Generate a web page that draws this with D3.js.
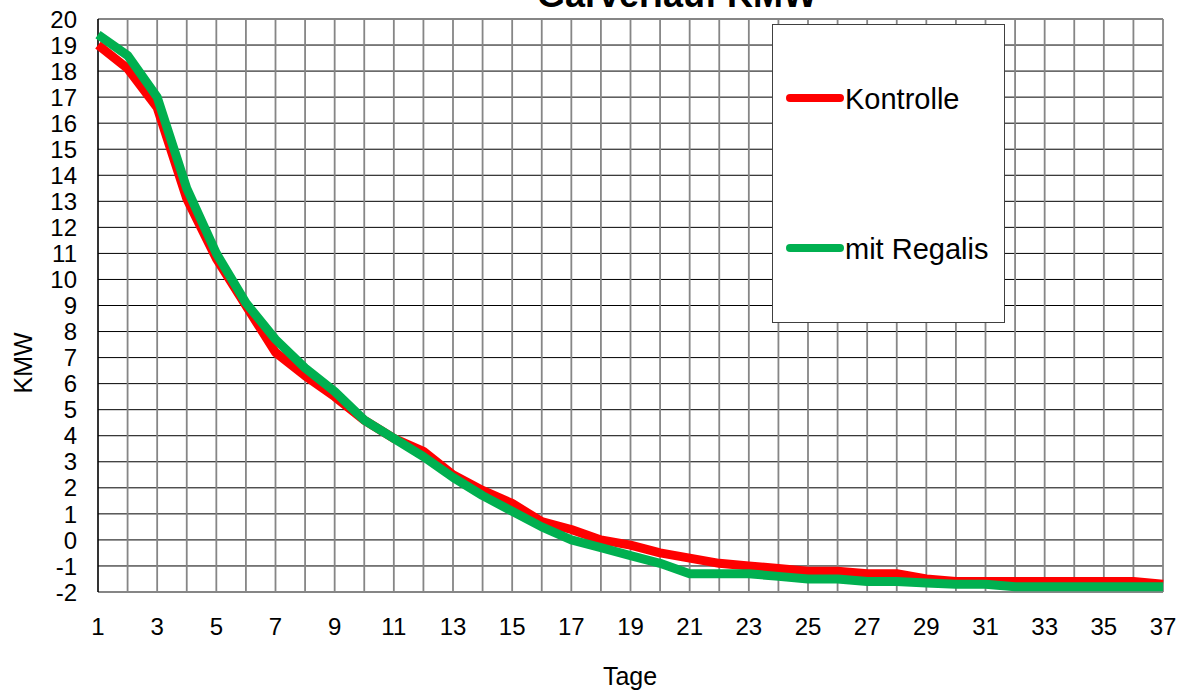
<!DOCTYPE html>
<html>
<head>
<meta charset="utf-8">
<script src="https://cdn.jsdelivr.net/npm/d3@7/dist/d3.min.js"></script>
<style>
  html, body { margin: 0; padding: 0; background: #fff; }
  svg { display: block; font-family: "Liberation Sans", Arial, sans-serif; }
</style>
</head>
<body>
<svg id="chart" width="1186" height="695"></svg>
<script>
const days = d3.range(1, 38);
const xTickLabels = [1,3,5,7,9,11,13,15,17,19,21,23,25,27,29,31,33,35,37];
const yTickLabels = d3.range(-2, 21);
const seriesNames = ["Kontrolle", "mit Regalis"];
const seriesColors = ["#ff0000", "#00b050"];
const kontrolle = [19.0, 18.1, 16.6, 13.1, 10.8, 9.0, 7.2, 6.3, 5.5, 4.6, 3.9, 3.4, 2.5, 1.9, 1.4, 0.7, 0.4, 0.0, -0.2, -0.5, -0.7, -0.9, -1.0, -1.1, -1.2, -1.2, -1.3, -1.3, -1.5, -1.6, -1.6, -1.6, -1.6, -1.6, -1.6, -1.6, -1.7];
const regalis = [19.4, 18.6, 17.0, 13.5, 11.0, 9.1, 7.7, 6.6, 5.7, 4.6, 3.9, 3.2, 2.4, 1.7, 1.1, 0.5, 0.0, -0.3, -0.6, -0.9, -1.3, -1.3, -1.3, -1.4, -1.5, -1.5, -1.6, -1.6, -1.65, -1.7, -1.7, -1.8, -1.8, -1.8, -1.8, -1.8, -1.8];
const title = "Garverlauf KMW";
const xTitle = "Tage";
const yTitle = "KMW";

const svg = d3.select("#chart");
const L = 98, R = 1163, T = 19, B = 592;
const x = d3.scaleLinear().domain([1, 37]).range([L, R]);
const y = d3.scaleLinear().domain([-2, 20]).range([B, T]);

// horizontal gridlines
svg.append("g").selectAll("line").data(yTickLabels.filter(v => v > -2 && v < 20)).join("line")
  .attr("x1", L).attr("x2", R)
  .attr("y1", d => y(d)).attr("y2", d => y(d))
  .attr("stroke", "#000").attr("stroke-width", 1);

// vertical gridlines
svg.append("g").selectAll("line").data(days.filter(d => d > 1)).join("line")
  .attr("x1", d => x(d)).attr("x2", d => x(d))
  .attr("y1", T).attr("y2", B)
  .attr("stroke", "#868686").attr("stroke-width", 1.8);

// border top and bottom
svg.append("line").attr("x1", L).attr("x2", R).attr("y1", y(20)).attr("y2", y(20))
  .attr("stroke", "#868686").attr("stroke-width", 1.8);
svg.append("line").attr("x1", L).attr("x2", R).attr("y1", y(-2)).attr("y2", y(-2))
  .attr("stroke", "#868686").attr("stroke-width", 2);
// left axis line
svg.append("line").attr("x1", L).attr("x2", L).attr("y1", T).attr("y2", B)
  .attr("stroke", "#000").attr("stroke-width", 1.6);

// y tick labels
svg.append("g").selectAll("text").data(yTickLabels).join("text")
  .attr("x", 77).attr("y", d => y(d)).attr("dy", "0.36em")
  .attr("text-anchor", "end").attr("font-size", 24).attr("fill", "#000")
  .text(d => d);

// x tick labels
svg.append("g").selectAll("text").data(xTickLabels).join("text")
  .attr("x", d => x(d)).attr("y", 635)
  .attr("text-anchor", "middle").attr("font-size", 24).attr("fill", "#000")
  .text(d => d);

// axis titles
svg.append("text").attr("x", 630).attr("y", 685).attr("text-anchor", "middle")
  .attr("font-size", 25).text(xTitle);
svg.append("text").attr("transform", "translate(32,363) rotate(-90)")
  .attr("text-anchor", "middle").attr("font-size", 25).text(yTitle);

// title (cut off at the top edge, as in the reference)
svg.append("text").attr("x", 677).attr("y", 7).attr("text-anchor", "middle")
  .attr("font-size", 36).attr("font-weight", "bold").text(title);

// lines
const line = d3.line().x((d, i) => x(days[i])).y(d => y(d));
[kontrolle, regalis].forEach((s, i) => {
  svg.append("path").datum(s).attr("d", line)
    .attr("fill", "none").attr("stroke", seriesColors[i])
    .attr("stroke-width", 9).attr("stroke-linejoin", "round").attr("stroke-linecap", "butt");
});

// legend
const lg = svg.append("g");
lg.append("rect").attr("x", 772.5).attr("y", 24.5).attr("width", 232).attr("height", 298)
  .attr("fill", "#fff").attr("stroke", "#404040").attr("stroke-width", 1);
const legY = [98, 248];
seriesNames.forEach((n, i) => {
  lg.append("line").attr("x1", 790).attr("x2", 840).attr("y1", legY[i]).attr("y2", legY[i])
    .attr("stroke", seriesColors[i]).attr("stroke-width", 8).attr("stroke-linecap", "round");
  lg.append("text").attr("x", 845).attr("y", legY[i] + 11).attr("font-size", 29).text(n);
});
</script>
</body>
</html>
